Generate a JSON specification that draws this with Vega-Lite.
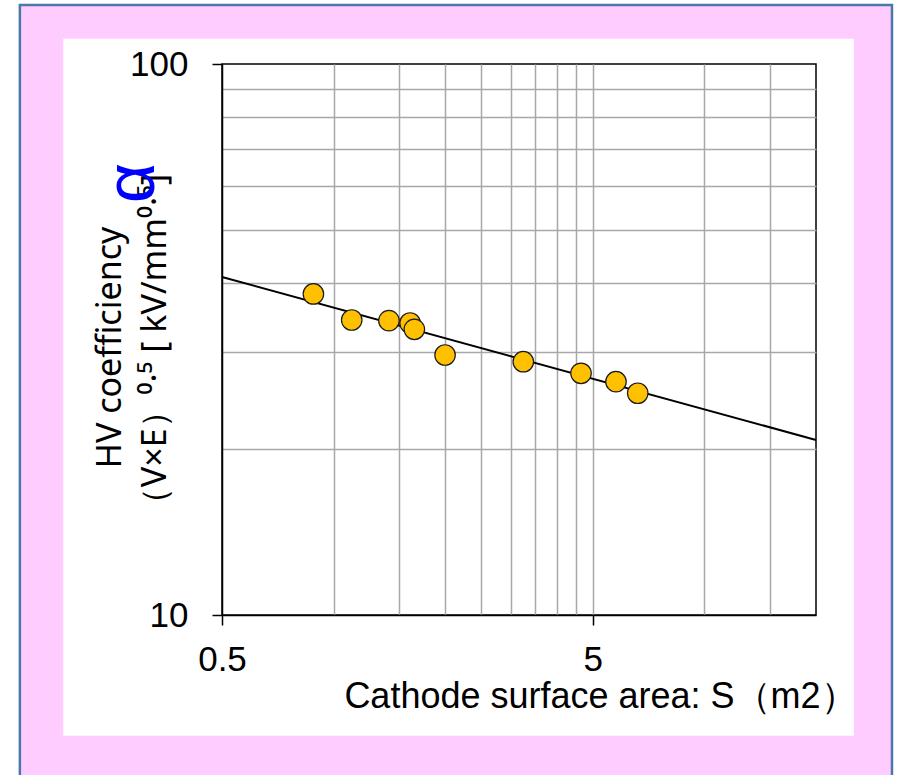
{
  "$schema": "https://vega.github.io/schema/vega-lite/v6.json",
  "width": 594,
  "height": 551,
  "autosize": {"type": "none"},
  "padding": {"left": 222, "top": 64, "right": 81, "bottom": 160},
  "background": "white",
  "config": {
    "view": {"stroke": "black", "strokeWidth": 1.5},
    "axis": {
      "labelFont": "Liberation Sans",
      "titleFont": "Liberation Sans",
      "labelFontSize": 35,
      "labelColor": "black",
      "titleColor": "black",
      "titleFontWeight": "normal",
      "gridColor": "#a8a8a8",
      "gridWidth": 1.5,
      "domainColor": "black",
      "domainWidth": 1.5,
      "tickColor": "black",
      "tickWidth": 1.5,
      "tickSize": 10,
      "labelFlush": false,
      "labelOverlap": false
    }
  },
  "datasets": {
    "points": [
      {"S": 0.882, "alpha": 38.25},
      {"S": 1.119, "alpha": 34.31},
      {"S": 1.41, "alpha": 34.21},
      {"S": 1.608, "alpha": 33.88},
      {"S": 1.651, "alpha": 33.0},
      {"S": 1.998, "alpha": 29.64},
      {"S": 3.248, "alpha": 28.82},
      {"S": 4.648, "alpha": 27.46},
      {"S": 5.775, "alpha": 26.51},
      {"S": 6.61, "alpha": 25.26}
    ],
    "fit": [
      {"S": 0.5, "alpha": 41.06},
      {"S": 20, "alpha": 20.78}
    ]
  },
  "layer": [
    {
      "data": {"name": "points"},
      "mark": {"type": "point", "opacity": 0},
      "encoding": {
        "x": {
          "field": "S",
          "type": "quantitative",
          "scale": {"type": "log", "domain": [0.5, 20], "nice": false},
          "axis": {
            "values": [0.5, 1, 1.5, 2, 2.5, 3, 3.5, 4, 4.5, 5, 10, 15],
            "labelExpr": "datum.value == 0.5 ? '0.5' : (datum.value == 5 ? '5' : '')",
            "tickOpacity": {"condition": {"test": "datum.value == 0.5 || datum.value == 5", "value": 1}, "value": 0},
            "gridOpacity": {"condition": {"test": "datum.value == 0.5", "value": 0}, "value": 1},
            "labelPadding": 17,
            "title": "Cathode surface area: S（m2）",
            "titleFontSize": 36,
            "titleX": 378,
            "titleY": 92,
            "titleAlign": "center",
            "titleBaseline": "alphabetic"
          }
        },
        "y": {
          "field": "alpha",
          "type": "quantitative",
          "scale": {"type": "log", "domain": [10, 100], "nice": false},
          "axis": {
            "values": [10, 20, 30, 40, 50, 60, 70, 80, 90, 100],
            "labelExpr": "datum.value == 10 ? '10' : (datum.value == 100 ? '100' : '')",
            "tickOpacity": {"condition": {"test": "datum.value == 10 || datum.value == 100", "value": 1}, "value": 0},
            "gridOpacity": {"condition": {"test": "datum.value == 10 || datum.value == 100", "value": 0}, "value": 1},
            "labelPadding": 24,
            "title": ["HV coefficiency", "（V×E）⁰·⁵ [ kV/mm⁰·⁵]"],
            "titleFont": "Noto Sans",
            "titleFontSize": 34,
            "titleAngle": 270,
            "titleX": -102,
            "titleY": 283,
            "titleAlign": "center",
            "titleBaseline": "alphabetic",
            "titleLineHeight": 45
          }
        }
      }
    },
    {
      "data": {"values": [{}]},
      "mark": {"type": "rect", "fill": "#FFCCFF"},
      "encoding": {
        "x": {"datum": 0.1425, "type": "quantitative"},
        "x2": {"datum": 0.1866},
        "y": {"datum": 127.97, "type": "quantitative"},
        "y2": {"datum": 5.0}
      }
    },
    {
      "data": {"values": [{}]},
      "mark": {"type": "rect", "fill": "#FFCCFF"},
      "encoding": {
        "x": {"datum": 25.3, "type": "quantitative"},
        "x2": {"datum": 32.06},
        "y": {"datum": 127.97, "type": "quantitative"},
        "y2": {"datum": 5.0}
      }
    },
    {
      "data": {"values": [{}]},
      "mark": {"type": "rect", "fill": "#FFCCFF"},
      "encoding": {
        "x": {"datum": 0.1425, "type": "quantitative"},
        "x2": {"datum": 32.06},
        "y": {"datum": 127.97, "type": "quantitative"},
        "y2": {"datum": 111.1}
      }
    },
    {
      "data": {"values": [{}]},
      "mark": {"type": "rect", "fill": "#FFCCFF"},
      "encoding": {
        "x": {"datum": 0.1425, "type": "quantitative"},
        "x2": {"datum": 32.06},
        "y": {"datum": 6.04, "type": "quantitative"},
        "y2": {"datum": 5.0}
      }
    },
    {
      "data": {"values": [{}]},
      "mark": {"type": "rect", "fill": null, "fillOpacity": 0, "stroke": "#4A78AC", "strokeWidth": 2.5},
      "encoding": {
        "x": {"datum": 0.1425, "type": "quantitative"},
        "x2": {"datum": 32.06},
        "y": {"datum": 127.97, "type": "quantitative"},
        "y2": {"datum": 5.0}
      }
    },
    {
      "data": {"name": "fit"},
      "mark": {"type": "line", "color": "black", "strokeWidth": 2},
      "encoding": {
        "x": {"field": "S", "type": "quantitative"},
        "y": {"field": "alpha", "type": "quantitative"}
      }
    },
    {
      "data": {"name": "points"},
      "mark": {"type": "point", "shape": "circle", "filled": true, "fill": "#FFC000", "stroke": "#1a1a1a", "strokeWidth": 1.2, "size": 420, "opacity": 1},
      "encoding": {
        "x": {"field": "S", "type": "quantitative"},
        "y": {"field": "alpha", "type": "quantitative"}
      }
    },
    {
      "data": {"values": [{}]},
      "mark": {"type": "text", "text": "α", "color": "#0000FF", "fontSize": 70, "angle": 270, "align": "center", "baseline": "middle", "font": "Liberation Sans"},
      "encoding": {
        "x": {"datum": 0.2877, "type": "quantitative"},
        "y": {"datum": 60.8, "type": "quantitative"}
      }
    }
  ]
}
